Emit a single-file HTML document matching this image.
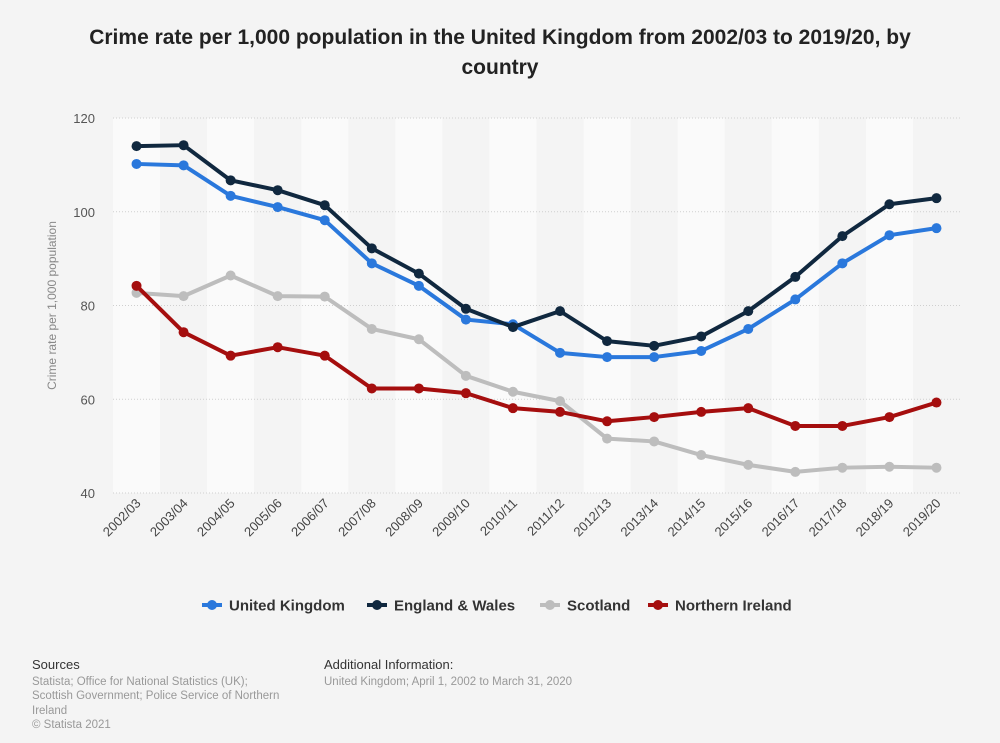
<!DOCTYPE html>
<html><head><meta charset="utf-8"><style>
body{margin:0;background:#f4f4f4;font-family:"Liberation Sans",Arial,sans-serif;}
#wrap{position:relative;width:1000px;height:743px;overflow:hidden;}
.title{position:absolute;left:70px;width:860px;top:23px;text-align:center;font-weight:bold;font-size:21px;line-height:30px;color:#222;}
.foot{position:absolute;font-size:11.5px;line-height:14.5px;color:#999;}
.foot b{font-weight:normal;color:#333;font-size:13px;display:block;margin-bottom:2px;}
</style></head><body>
<div id="wrap">
<div class="title">Crime rate per 1,000 population in the United Kingdom from 2002/03 to 2019/20, by country</div>
<svg id="chart" width="1000" height="743" style="position:absolute;left:0;top:0"></svg>
<div class="foot" style="left:32px;top:658px;width:285px"><b>Sources</b>Statista; Office for National Statistics (UK);<br>Scottish Government; Police Service of Northern<br>Ireland<br>© Statista 2021</div>
<div class="foot" style="left:324px;top:658px"><b>Additional Information:</b>United Kingdom; April 1, 2002 to March 31, 2020</div>
</div>
<script>
const categories=["2002/03","2003/04","2004/05","2005/06","2006/07","2007/08","2008/09","2009/10","2010/11","2011/12","2012/13","2013/14","2014/15","2015/16","2016/17","2017/18","2018/19","2019/20"];
const ukValues=[110.2,109.9,103.4,101,98.2,89,84.2,77,76,69.9,69,69,70.3,75,81.3,89,95,96.5];
const ewValues=[114,114.2,106.7,104.6,101.4,92.2,86.8,79.3,75.4,78.8,72.4,71.4,73.4,78.8,86.1,94.8,101.6,102.9];
const scValues=[82.7,82,86.4,82,81.9,75,72.8,65,61.6,59.6,51.6,51,48.1,46,44.5,45.4,45.6,45.4];
const niValues=[84.2,74.3,69.3,71.1,69.3,62.3,62.3,61.3,58.1,57.3,55.3,56.2,57.3,58.1,54.3,54.3,56.2,59.3];
const yTicks=[40,60,80,100,120];
const seriesNames=["United Kingdom","England & Wales","Scotland","Northern Ireland"];
const seriesColors=["#2a78dc","#10283f","#bdbdbd","#a50e0e"];
const ns="http://www.w3.org/2000/svg";
const svg=document.getElementById('chart');
const L=113,R=960,T=118,B=493,ymin=40,ymax=120;
const step=(R-L)/categories.length;
function xS(i){return L+step*(i+0.5);}
function yS(v){return B-(v-ymin)/(ymax-ymin)*(B-T);}
function mk(t,a,p){const e=document.createElementNS(ns,t);for(const k in a)e.setAttribute(k,a[k]);(p||svg).appendChild(e);return e;}
const bg=mk('rect',{x:L,y:T,width:R-L,height:B-T,fill:'#f4f4f4'});


categories.forEach((c,i)=>{
  if(i%2===0){const b=mk('rect',{x:L+step*i,y:T,width:step,height:B-T,fill:'#fafafa'});
  
  }
  const t=mk('text',{x:0,y:0,'font-size':13,fill:'#444','text-anchor':'end',transform:`translate(${xS(i)+5},${B+11}) rotate(-45)`});
  t.textContent=c;
  
  
});
yTicks.forEach(v=>{
  const g=mk('line',{x1:L,x2:R,y1:yS(v),y2:yS(v),stroke:'#cfcfcf','stroke-dasharray':'1,2'});
  
  
  const t=mk('text',{x:95,y:yS(v)+5,'font-size':13,fill:'#555','text-anchor':'end'});
  t.textContent=v;
  
  
});
const yt=mk('text',{x:0,y:0,'font-size':12,fill:'#888','text-anchor':'middle',transform:`translate(56,${(T+B)/2}) rotate(-90)`});
yt.textContent='Crime rate per 1,000 population';


const allSeries=[ukValues,ewValues,scValues,niValues];
[2,0,1,3].forEach(si=>{
  const vals=allSeries[si];
  const g=mk('g',{});
  
  
  const p=mk('polyline',{points:vals.map((v,i)=>xS(i)+','+yS(v)).join(' '),fill:'none',stroke:seriesColors[si],'stroke-width':4,'stroke-linejoin':'round'},g);
  
  
  vals.forEach((v,i)=>{const c=mk('circle',{cx:xS(i),cy:yS(v),r:5,fill:seriesColors[si]},g);
    
    });
});
const legX=[202,367,540,648];
seriesNames.forEach((n,i)=>{
  const g=mk('g',{});
  
  
  mk('line',{x1:legX[i],x2:legX[i]+20,y1:605,y2:605,stroke:seriesColors[i],'stroke-width':4},g);
  mk('circle',{cx:legX[i]+10,cy:605,r:5,fill:seriesColors[i]},g);
  const t=mk('text',{x:legX[i]+27,y:610.5,'font-size':15,'font-weight':'bold',fill:'#333'},g);
  t.textContent=n;
});
</script>
</body></html>
